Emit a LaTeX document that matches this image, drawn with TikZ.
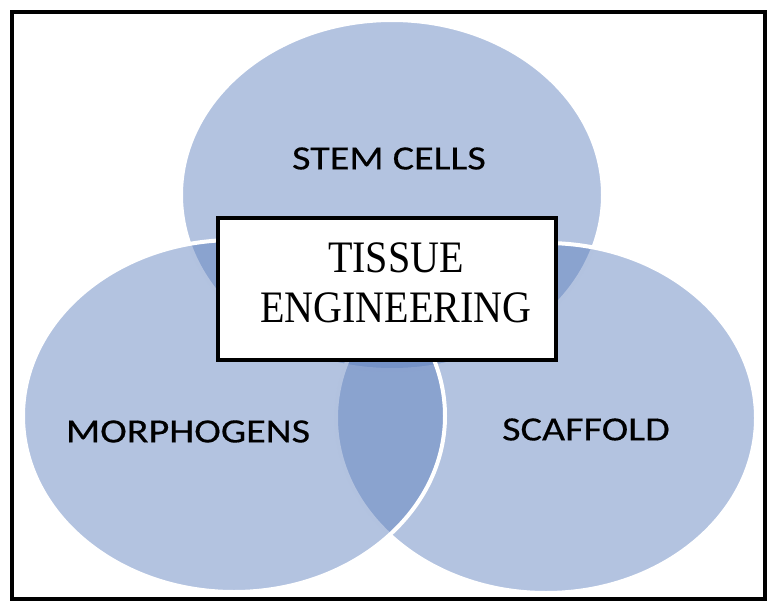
\documentclass[tikz,border=0pt]{standalone}
\usepackage{fontspec}
\usepackage{xcolor}
\usepackage{tikz}
\newfontfamily\labelfont[FakeStretch=1.18,FakeBold=0.4]{Carlito}
\newfontfamily\titlefont[FakeStretch=0.89]{Liberation Serif}
\definecolor{venncolor}{RGB}{93,127,189}

\begin{document}
\begin{tikzpicture}[x=1pt,y=-1pt]
\useasboundingbox (0,0) rectangle (774,608);

% Define the main coordinates
\coordinate (T) at (392,195);
\coordinate (L) at (234,416);
\coordinate (R) at (546,418);

% Draw the circles
\filldraw[fill=venncolor,fill opacity=0.47,draw=white,line width=4pt] (T) ellipse [x radius=211pt,y radius=175pt];
\filldraw[fill=venncolor,fill opacity=0.47,draw=white,line width=4pt] (R) ellipse [x radius=210pt,y radius=175pt];
\filldraw[fill=venncolor,fill opacity=0.47,draw=white,line width=4pt] (L) ellipse [x radius=211pt,y radius=176pt];

% Draw the labels
\node[inner sep=0pt,font=\labelfont\fontsize{34}{40}\selectfont] (stem) at (389,158.5) {STEM CELLS};
\node[inner sep=0pt,font=\labelfont\fontsize{34}{40}\selectfont] (morph) at (188,431.5) {MORPHOGENS};
\node[inner sep=0pt,font=\labelfont\fontsize{34}{40}\selectfont] (scaf) at (586,429.5) {SCAFFOLD};

% Draw the centre box
\node[draw,fill=white,line width=4pt,minimum width=338pt,minimum height=142pt] (box) at (387,289) {};
\node[inner sep=0pt,align=center,font=\titlefont\fontsize{45}{50}\selectfont] (title) at (396,283) {TISSUE\\ENGINEERING};

% Draw the frame
\draw[line width=3.5pt] (12,12) rectangle (765,599);

\end{tikzpicture}
\end{document}
